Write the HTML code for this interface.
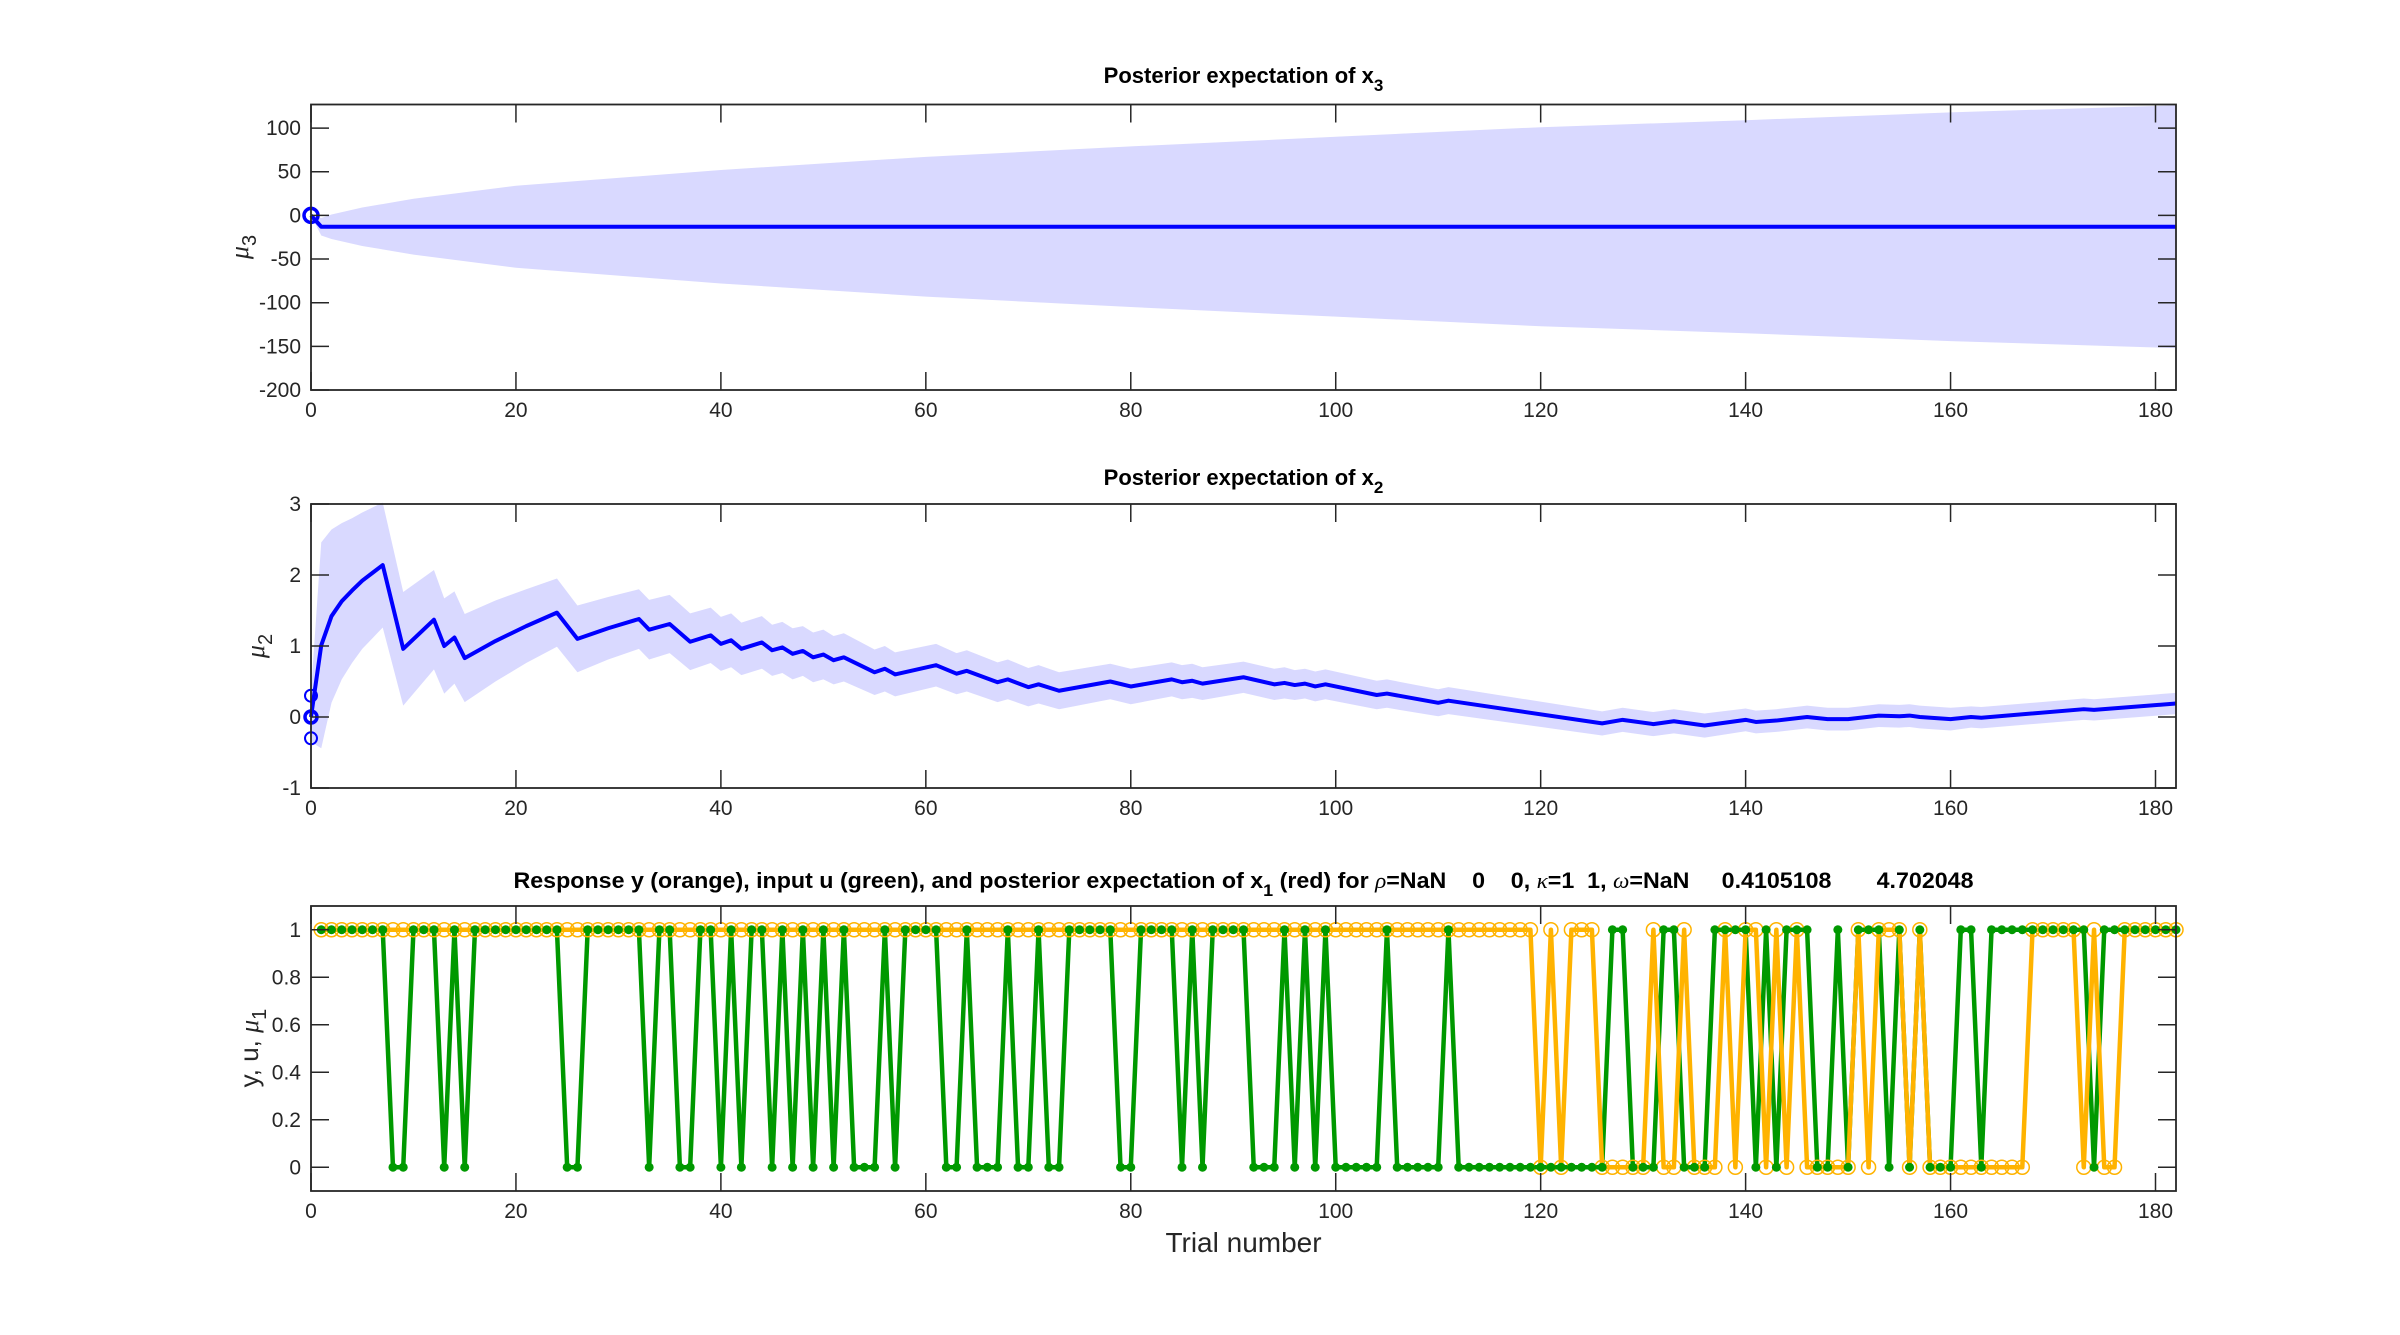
<!DOCTYPE html>
<html><head><meta charset="utf-8"><style>
html,body{margin:0;padding:0;background:#fff;}
svg{display:block;font-family:"Liberation Sans",Arial,sans-serif;}
</style></head><body>
<svg id="fig" width="2400" height="1335" viewBox="0 0 2400 1335" xmlns="http://www.w3.org/2000/svg">
<rect x="0" y="0" width="2400" height="1335" fill="#fff"/>
<g id="root"></g>
</svg>
<script>
// ---- data ----
const xTicks = [0,20,40,60,80,100,120,140,160,180];
const p1YTicks = [100,50,0,-50,-100,-150,-200];
const p2YTicks = [3,2,1,0,-1];
const p3YTicks = [1,0.8,0.6,0.4,0.2,0];
const p3YTickLabels = ['1','0.8','0.6','0.4','0.2','0'];

// panel 1: posterior expectation of x3
const t3 = [0,1,2,5,10,20,40,60,80,100,120,140,160,182];
const mu3 = [0,-13,-13,-13,-13,-13,-13,-13,-13,-13,-13,-13,-13,-13];
const hw3 = [0,10,14,22,32,47,65,80,92,103,114,122,131,139];

// panel 2: posterior expectation of x2
const t2 = [0,1,2,3,4,5,6,7,9,12,13,14,15,18,21,24,26,29,32,33,35,37,39,40,41,42,44,45,46,47,48,49,50,51,52,55,56,57,61,63,64,67,68,70,71,73,78,80,84,85,86,87,91,94,95,96,97,98,99,104,105,110,111,126,128,131,133,136,140,141,143,146,148,150,153,155,156,157,160,162,163,173,174,182];
const mu2 = [0,1.01,1.42,1.63,1.78,1.92,2.03,2.14,0.96,1.37,1.0,1.12,0.83,1.07,1.28,1.47,1.10,1.25,1.38,1.23,1.31,1.06,1.15,1.03,1.08,0.96,1.05,0.94,0.98,0.89,0.93,0.84,0.88,0.80,0.84,0.63,0.68,0.60,0.73,0.61,0.65,0.49,0.53,0.42,0.46,0.37,0.50,0.43,0.53,0.49,0.51,0.47,0.56,0.46,0.48,0.45,0.47,0.43,0.46,0.31,0.33,0.20,0.23,-0.09,-0.04,-0.10,-0.06,-0.12,-0.04,-0.07,-0.05,0.0,-0.03,-0.03,0.02,0.01,0.02,0.0,-0.03,0.0,-0.01,0.11,0.10,0.19];
const hw2 = [0.35,1.45,1.22,1.1,1.02,0.96,0.92,0.88,0.8,0.7,0.67,0.65,0.62,0.57,0.52,0.48,0.47,0.44,0.42,0.42,0.41,0.4,0.39,0.38,0.38,0.37,0.37,0.36,0.36,0.36,0.35,0.35,0.35,0.34,0.34,0.32,0.32,0.31,0.30,0.29,0.29,0.28,0.28,0.27,0.27,0.26,0.25,0.25,0.24,0.24,0.24,0.23,0.22,0.22,0.22,0.21,0.21,0.21,0.21,0.2,0.2,0.19,0.19,0.17,0.17,0.17,0.17,0.17,0.16,0.16,0.16,0.16,0.16,0.16,0.16,0.16,0.16,0.16,0.16,0.15,0.15,0.15,0.15,0.15];
const prior2 = [0.3,0,-0.3];

// panel 3: trials 1..182
const uZeros = [8,9,13,15,25,26,33,36,37,40,42,45,47,49,51,53,54,55,57,62,63,65,66,67,69,70,72,73,79,80,85,87,92,93,94,96,98,100,101,102,103,104,106,107,108,109,110,112,113,114,115,116,117,118,119,120,121,122,123,124,125,126,129,130,131,134,135,136,141,143,147,148,150,154,156,158,159,160,163,174];
const yZeros = [120,122,126,127,128,129,130,132,133,135,136,137,139,142,144,146,147,148,149,150,152,156,158,159,160,161,162,163,164,165,166,167,173,175,176];
const nTrials = 182;

// ---- layout ----
const NS='http://www.w3.org/2000/svg';
const root=document.getElementById('root');
const X0=311, X1=2176, XMAX=182;
function sx(t){return X0+(t/XMAX)*(X1-X0);}
function mk(tag,attrs,parent){const e=document.createElementNS(NS,tag);for(const k in attrs)e.setAttribute(k,attrs[k]);(parent||root).appendChild(e);return e;}
function panel(name,top,bot,ymin,ymax){
  const g=mk('g',{});
  
  
  return {g,top,bot,sy:v=>bot-(v-ymin)/(ymax-ymin)*(bot-top)};
}
function axes(p,yTicks,yLabels){
  const g=p.g;
  xTicks.forEach(t=>{
    const x=sx(t);
    mk('line',{x1:x,x2:x,y1:p.bot,y2:p.bot-18,stroke:'#262626','stroke-width':1.5},g);
    mk('line',{x1:x,x2:x,y1:p.top,y2:p.top+18,stroke:'#262626','stroke-width':1.5},g);
    const tx=mk('text',{x:x,y:p.bot+27,'text-anchor':'middle','font-size':21,fill:'#262626'},g);
    tx.textContent=t;
    
    
  });
  yTicks.forEach((v,i)=>{
    const y=p.sy(v);
    mk('line',{x1:X0,x2:X0+18,y1:y,y2:y,stroke:'#262626','stroke-width':1.5},g);
    mk('line',{x1:X1,x2:X1-18,y1:y,y2:y,stroke:'#262626','stroke-width':1.5},g);
    const tx=mk('text',{x:X0-10,y:y+7,'text-anchor':'end','font-size':21,fill:'#262626'},g);
    tx.textContent=yLabels[i];
    
    
  });
  const b=mk('rect',{x:X0,y:p.top,width:X1-X0,height:p.bot-p.top,fill:'none',stroke:'#262626','stroke-width':1.8},g);
  
  
}
function band(p,ts,mu,hw,color){
  let up=[],lo=[];
  ts.forEach((t,i)=>{up.push(sx(t)+','+p.sy(mu[i]+hw[i]));lo.unshift(sx(t)+','+p.sy(mu[i]-hw[i]));});
  const e=mk('polygon',{points:up.concat(lo).join(' '),fill:color},p.g);
  
  
}
function line(p,ts,vals,color,w,name){
  const pts=ts.map((t,i)=>sx(t)+','+p.sy(vals[i])).join(' ');
  const e=mk('polyline',{points:pts,fill:'none',stroke:color,'stroke-width':w,'stroke-linejoin':'round'},p.g);
  
  
  return e;
}
function title(x,y,html,name){
  const t=mk('text',{x:x,y:y,'text-anchor':'middle','font-size':22,'font-weight':'bold',fill:'#000'});
  t.innerHTML=html;
  
  
  return t;
}
function ylab(x,y,html,name){
  const t=mk('text',{x:0,y:0,transform:'translate('+x+','+y+') rotate(-90)','text-anchor':'middle','font-size':26,fill:'#262626'});
  t.innerHTML=html;
  
  
}
const XC=(X0+X1)/2;

// panel 1
const P1=panel('panel-x3',104.5,390,-200,127);
band(P1,t3,mu3,hw3,'#d9d9ff');
line(P1,t3,mu3,'#0000ff',4,'mu3-line');
const c1=mk('circle',{cx:sx(0),cy:P1.sy(0),r:7,fill:'none',stroke:'#0000ff','stroke-width':3.5},P1.g);


axes(P1,p1YTicks,p1YTicks.map(String));
title(XC,83,'Posterior expectation of x<tspan font-size="17" dy="8">3</tspan>','title-x3');
ylab(248,247,'<tspan font-style="italic" font-family="Liberation Serif">μ</tspan><tspan font-size="20" dy="8">3</tspan>','y-axis-title-mu3');

// panel 2
const P2=panel('panel-x2',504,788,-1,3);
band(P2,t2,mu2,hw2,'#d9d9ff');
line(P2,t2,mu2,'#0000ff',4,'mu2-line');
prior2.forEach(v=>{
  const c=mk('circle',{cx:sx(0),cy:P2.sy(v),r:6,fill:'none',stroke:'#0000ff','stroke-width':v===0?3.5:2},P2.g);
  
  
});
axes(P2,p2YTicks,p2YTicks.map(String));
title(XC,485,'Posterior expectation of x<tspan font-size="17" dy="8">2</tspan>','title-x2');
ylab(264,646,'<tspan font-style="italic" font-family="Liberation Serif">μ</tspan><tspan font-size="20" dy="8">2</tspan>','y-axis-title-mu2');

// panel 3
const P3=panel('panel-responses',906,1191,-0.1,1.1);
const trials=[],uVals=[],yVals=[];
for(let t=1;t<=nTrials;t++){trials.push(t);uVals.push(uZeros.includes(t)?0:1);yVals.push(yZeros.includes(t)?0:1);}
line(P3,trials,uVals,'#009900',4.5,'input-u-line');
line(P3,trials,yVals,'#ffb300',4.5,'response-y-line');
trials.forEach((t,i)=>{
  const c=mk('circle',{cx:sx(t),cy:P3.sy(yVals[i]),r:7,fill:'none',stroke:'#ffb300','stroke-width':1.5},P3.g);
  
  
});
trials.forEach((t,i)=>{
  const c=mk('circle',{cx:sx(t),cy:P3.sy(uVals[i]),r:4.5,fill:'#009900'},P3.g);
  
  
});
axes(P3,p3YTicks,p3YTickLabels);
const t3el=title(XC,888,'Response y (orange), input u (green), and posterior expectation of x<tspan font-size="17" dy="8">1</tspan><tspan dy="-8"> (red) for </tspan><tspan font-style="italic" font-weight="normal" font-family="Liberation Serif">ρ</tspan>=NaN    0    0, <tspan font-style="italic" font-weight="normal" font-family="Liberation Serif">κ</tspan>=1  1, <tspan font-style="italic" font-weight="normal" font-family="Liberation Serif">ω</tspan>=NaN     0.4105108       4.702048','title-responses');
t3el.setAttribute('xml:space','preserve');
t3el.style.whiteSpace='pre';
t3el.setAttribute('textLength','1460');
t3el.setAttribute('lengthAdjust','spacingAndGlyphs');
ylab(258,1048,'y, u, <tspan font-style="italic" font-family="Liberation Serif">μ</tspan><tspan font-size="20" dy="8">1</tspan>','y-axis-title-responses');
const xl=mk('text',{x:XC,y:1252,'text-anchor':'middle','font-size':28,fill:'#262626'});
xl.textContent='Trial number';


</script>
</body></html>
